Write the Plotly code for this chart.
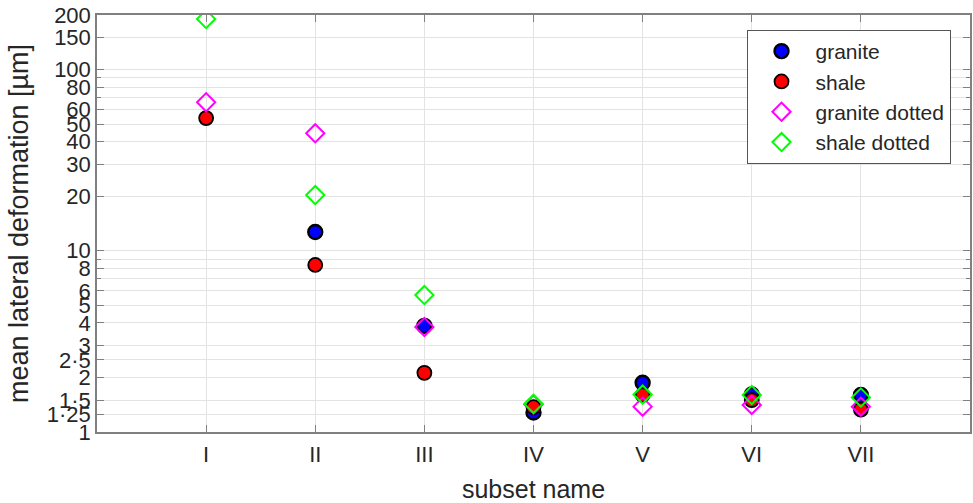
import plotly.graph_objects as go

# subset categories and their positions along the x axis
subsets = ["I", "II", "III", "IV", "V", "VI", "VII"]
positions = [1, 2, 3, 4, 5, 6, 7]

# mean lateral deformation [µm] per subset
granite = [None, 12.7, 3.85, 1.28, 1.87, 1.61, 1.60]
shale = [54, 8.35, 2.12, 1.37, 1.60, 1.50, 1.33]
granite_dotted = [66, 44.5, 3.8, 1.42, 1.38, 1.41, 1.38]
shale_dotted = [190, 20.3, 5.7, 1.43, 1.61, 1.60, 1.55]

# y axis ticks
ytick_vals = [1, 1.25, 1.5, 2, 2.5, 3, 4, 5, 6, 8, 10, 20, 30, 40, 50, 60, 80, 100, 150, 200]
ytick_text = ["1", "1·25", "1·5", "2", "2·5", "3", "4", "5", "6", "8", "10",
              "20", "30", "40", "50", "60", "80", "100", "150", "200"]
yminor_vals = [7, 9, 70, 90]

FONT = "Liberation Sans, Arial, sans-serif"
TEXT = "#262626"
AXIS = "#808080"
GRID = "#e3e3e3"

fig = go.Figure()

fig.add_trace(go.Scatter(
    x=positions, y=granite, mode="markers", name="granite",
    marker=dict(symbol="circle", size=14, color="#0000ff",
                line=dict(color="black", width=2.4)),
))
fig.add_trace(go.Scatter(
    x=positions, y=shale, mode="markers", name="shale",
    marker=dict(symbol="circle", size=14, color="#ff0000",
                line=dict(color="black", width=1.8)),
))
fig.add_trace(go.Scatter(
    x=positions, y=granite_dotted, mode="markers", name="granite dotted",
    marker=dict(symbol="diamond-open", size=14, color="#ff00ff",
                line=dict(color="#ff00ff", width=2)),
))
fig.add_trace(go.Scatter(
    x=positions, y=shale_dotted, mode="markers", name="shale dotted",
    marker=dict(symbol="diamond-open", size=14, color="#00ff00",
                line=dict(color="#00ff00", width=2)),
))

fig.update_layout(
    width=973, height=503,
    margin=dict(l=97, r=3, t=15, b=71),
    paper_bgcolor="white", plot_bgcolor="white",
    font=dict(family=FONT, size=22, color=TEXT),
    showlegend=True,
    legend=dict(
        x=0.744, y=0.964, xanchor="left", yanchor="top",
        bgcolor="white", bordercolor="#555555", borderwidth=1,
        font=dict(family=FONT, size=21, color=TEXT),
        itemwidth=58, tracegroupgap=0,
    ),
)

fig.update_xaxes(
    range=[0, 8],
    automargin=False,
    tickmode="array", tickvals=positions, ticktext=subsets,
    ticks="inside", ticklen=7, tickcolor=AXIS, tickwidth=1,
    ticklabelstandoff=2,
    showline=True, linecolor=AXIS, linewidth=1.5, mirror="ticks",
    showgrid=True, gridcolor=GRID, gridwidth=1,
    zeroline=False,
    tickfont=dict(family=FONT, size=22, color=TEXT),
    title=dict(text="subset name", font=dict(family=FONT, size=25, color=TEXT), standoff=14),
)

fig.update_yaxes(
    type="log", range=[0, 2.30103],
    automargin=False,
    tickmode="array", tickvals=ytick_vals, ticktext=ytick_text,
    ticks="inside", ticklen=7, tickcolor=AXIS, tickwidth=1,
    minor=dict(tickmode="array", tickvals=yminor_vals, ticks="inside", ticklen=4,
               tickcolor=AXIS, showgrid=True, gridcolor=GRID),
    showline=True, linecolor=AXIS, linewidth=1.5, mirror="ticks",
    showgrid=True, gridcolor=GRID, gridwidth=1,
    zeroline=False,
    tickfont=dict(family=FONT, size=22, color=TEXT),
    title=dict(text="mean lateral deformation [µm]", font=dict(family=FONT, size=27, color=TEXT), standoff=10),
)

fig.write_html("out.html")
